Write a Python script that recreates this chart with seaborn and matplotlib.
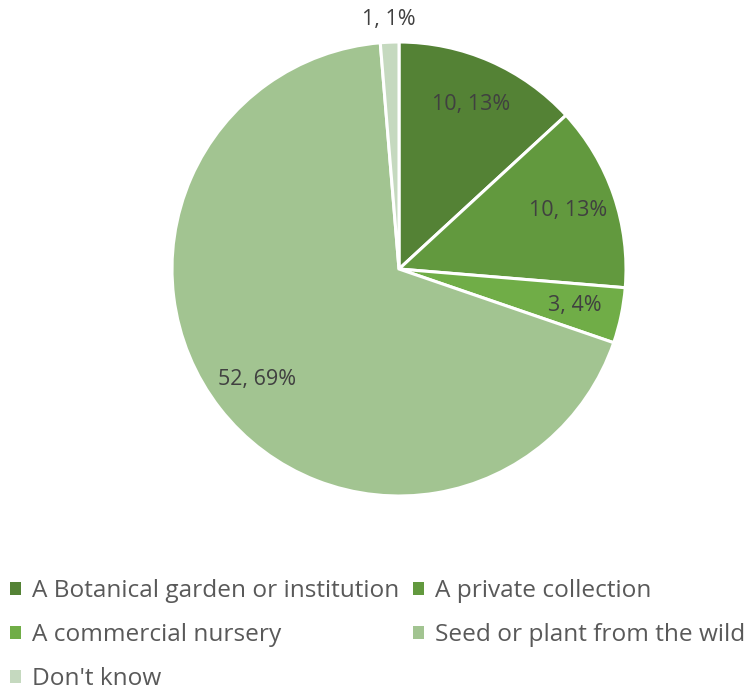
import matplotlib
matplotlib.use("Agg")
import matplotlib.pyplot as plt
import seaborn as sns
import numpy as np
from matplotlib.patches import Patch

sources = [
    "A Botanical garden or institution",
    "A private collection",
    "A commercial nursery",
    "Seed or plant from the wild",
    "Don't know",
]
counts = [10, 10, 3, 52, 1]
percents = [13, 13, 4, 69, 1]
colors = ["#548235", "#62993E", "#70AD47", "#A2C491", "#C5D9BF"]

sns.set_theme(style="white")
plt.rcParams["font.family"] = ["Open Sans", "DejaVu Sans"]

fig = plt.figure(figsize=(7.44, 7.0), dpi=100)
cx, cy, r = 399, 269, 227
ax = fig.add_axes([(cx - r) / 744, (700 - cy - r) / 700, 2 * r / 744, 2 * r / 700])

labels = [f"{c}, {p}%" for c, p in zip(counts, percents)]

wedges, texts = ax.pie(
    counts,
    labels=labels,
    colors=colors,
    startangle=90,
    counterclock=False,
    radius=1.0,
    labeldistance=0.79,
    wedgeprops=dict(edgecolor="white", linewidth=2.2),
    textprops=dict(fontsize=15.5, color="#404040"),
)
for t in texts:
    t.set_ha("center")
    t.set_va("center")

# the thin slice gets its label outside the pie
w = wedges[-1]
mid = np.deg2rad((w.theta1 + w.theta2) / 2)
texts[-1].set_position((1.1 * np.cos(mid), 1.1 * np.sin(mid)))

ax.set_xlim(-1, 1)
ax.set_ylim(-1, 1)
ax.set_aspect("equal")
ax.axis("off")

handles = [Patch(facecolor=c, edgecolor="none") for c in colors]
order = [0, 2, 4, 1, 3]
leg = fig.legend(
    [handles[i] for i in order],
    [sources[i] for i in order],
    loc="upper left",
    bbox_to_anchor=(10 / 744, 1 - 579 / 700),
    ncol=2,
    frameon=False,
    fontsize=17.6,
    handlelength=0.45,
    handleheight=0.45,
    handletextpad=0.45,
    columnspacing=0.55,
    labelspacing=0.82,
    borderaxespad=0.0,
    borderpad=0.0,
)
for t in leg.get_texts():
    t.set_color("#595959")

fig.savefig("out.png", dpi=100)
